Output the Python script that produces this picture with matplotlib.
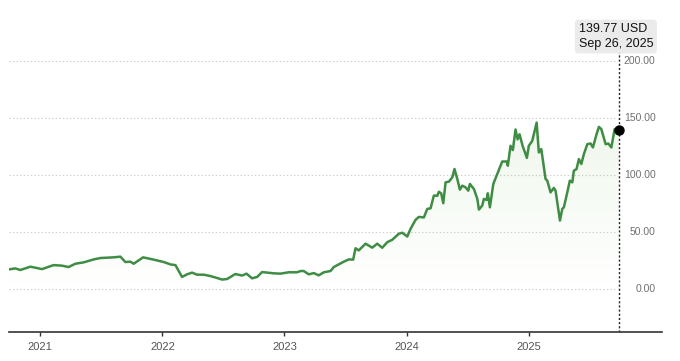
import numpy as np
import matplotlib
matplotlib.use("Agg")
import matplotlib.pyplot as plt

# decimal year / closing price (USD)
years = [2020.746, 2020.795, 2020.836, 2020.918, 2021.014, 2021.109, 2021.178, 2021.232,
         2021.287, 2021.355, 2021.437, 2021.492, 2021.547, 2021.598, 2021.656, 2021.697,
         2021.738, 2021.765, 2021.842, 2021.929, 2022.011, 2022.066, 2022.107, 2022.161,
         2022.202, 2022.243, 2022.284, 2022.339, 2022.393, 2022.448, 2022.489, 2022.530,
         2022.598, 2022.653, 2022.689, 2022.735, 2022.776, 2022.817, 2022.863, 2022.912,
         2022.967, 2023.035, 2023.104, 2023.131, 2023.158, 2023.199, 2023.240, 2023.281,
         2023.322, 2023.377, 2023.404, 2023.486, 2023.527, 2023.563, 2023.582, 2023.609,
         2023.664, 2023.719, 2023.760, 2023.801, 2023.842, 2023.883, 2023.937, 2023.965,
         2024.006, 2024.033, 2024.074, 2024.101, 2024.142, 2024.170, 2024.197, 2024.224,
         2024.252, 2024.265, 2024.284, 2024.301, 2024.320, 2024.347, 2024.375, 2024.393,
         2024.416, 2024.437, 2024.457, 2024.484, 2024.506, 2024.519, 2024.552, 2024.580,
         2024.593, 2024.620, 2024.634, 2024.656, 2024.666, 2024.683, 2024.711, 2024.743,
         2024.784, 2024.820, 2024.830, 2024.852, 2024.871, 2024.893, 2024.910, 2024.926,
         2024.951, 2024.986, 2025.002, 2025.030, 2025.066, 2025.084, 2025.104, 2025.139,
         2025.153, 2025.180, 2025.207, 2025.221, 2025.257, 2025.276, 2025.289, 2025.317,
         2025.338, 2025.358, 2025.371, 2025.393, 2025.412, 2025.432, 2025.453, 2025.481,
         2025.508, 2025.527, 2025.557, 2025.576, 2025.596, 2025.631, 2025.653, 2025.678,
         2025.705, 2025.737]
prices = [17.5, 18.3, 16.9, 19.8, 17.7, 21.2, 20.7, 19.5,
          22.4, 23.6, 26.2, 27.4, 27.7, 28.0, 28.6, 23.9,
          24.2, 22.4, 28.0, 26.0, 23.9, 21.8, 21.2, 10.8,
          13.1, 14.6, 12.8, 12.8, 11.6, 9.9, 8.5, 9.0,
          13.4, 12.0, 13.7, 9.6, 10.8, 15.1, 14.6, 14.0,
          13.7, 14.9, 14.9, 16.0, 16.0, 13.1, 14.2, 12.2,
          14.9, 16.0, 19.5, 24.2, 26.2, 26.0, 36.0, 34.1,
          40.0, 36.5, 40.0, 36.4, 41.3, 43.4, 48.7, 49.6,
          46.3, 53.0, 60.9, 63.5, 63.0, 70.5, 71.0, 82.2,
          82.0, 85.5, 84.2, 75.5, 93.8, 94.4, 98.2, 105.5,
          96.8, 87.4, 90.9, 89.4, 86.5, 92.4, 88.0, 79.3,
          69.9, 73.4, 79.3, 78.4, 84.2, 71.9, 92.4, 101.1,
          112.1, 112.1, 108.4, 125.9, 122.1, 140.2, 131.5, 136.0,
          125.9, 115.3, 125.9, 130.2, 146.2, 120.0, 123.0, 96.8,
          95.3, 85.0, 88.9, 86.5, 60.3, 70.5, 71.9, 85.0,
          95.3, 93.8, 104.0, 105.5, 114.2, 109.9, 118.6, 127.3,
          127.9, 124.4, 136.1, 142.5, 140.5, 127.3, 127.9, 124.4,
          140.5, 139.77]

year_ticks = [2021, 2022, 2023, 2024, 2025]
y_ticks = [0, 50, 100, 150, 200]
last_price = 139.77
last_date = "Sep 26, 2025"

x = np.array(years)
y = np.array(prices)

fig = plt.figure(figsize=(6.8, 3.61), dpi=100)
ax = fig.add_axes([0.0137, 0.0803, 0.9593, 0.892])
x0, x1 = 2020.746, 2026.09
y0, y1 = -37.5, 245
ax.set_xlim(x0, x1)
ax.set_ylim(y0, y1)

# gradient fill under the line
rgba = np.zeros((256, 1, 4))
rgba[:, :, 0] = 0.55
rgba[:, :, 1] = 0.78
rgba[:, :, 2] = 0.45
yy = np.linspace(y0, y1, 256).reshape(-1, 1)
rgba[:, :, 3] = np.clip(yy / 150, 0, 1) * 0.14
im = ax.imshow(rgba, extent=[x0, x1, y0, y1], origin="lower", aspect="auto", zorder=1)
poly = ax.fill_between(x, y, y0, color="none", lw=0)
im.set_clip_path(poly.get_paths()[0], transform=ax.transData)

# grid + right-side value labels
for v in y_ticks:
    ax.plot([x0, 2025.72], [v, v], color="#cccccc", lw=0.8, ls=(0, (1.2, 2)), zorder=0)
    ax.text(2026.04, v, f"{v:.2f}", ha="right", va="center", fontsize=7.5,
            color="#707070", family="Liberation Sans")

ax.plot(x, y, color="#3f8d44", lw=1.8, zorder=3, solid_joinstyle="round")
ax.plot([years[-1]], [last_price], "o", color="black", ms=6.5, zorder=4)

# dotted marker line and tooltip
ax.plot([years[-1], years[-1]], [y0, 208], color="#222222", lw=1, ls=(0, (1.5, 1.5)), zorder=2)
ax.text(2025.41, 221.7, f"{last_price:.2f} USD\n{last_date}", fontsize=9, color="#111111",
        va="center", ha="left", zorder=6, family="Liberation Sans", linespacing=1.25,
        bbox=dict(boxstyle="round,pad=0.3,rounding_size=0.3", fc="#ebebeb", ec="none"))

ax.set_yticks([])
ax.set_xticks(year_ticks)
ax.set_xticklabels([str(t) for t in year_ticks], fontsize=8, color="#555555", family="Liberation Sans")
ax.tick_params(axis="x", length=3, width=1, color="#333333", pad=4)
for s in ["top", "left", "right"]:
    ax.spines[s].set_visible(False)
ax.spines["bottom"].set_color("#333333")
ax.spines["bottom"].set_linewidth(1.2)

fig.savefig("out.png", dpi=100)
